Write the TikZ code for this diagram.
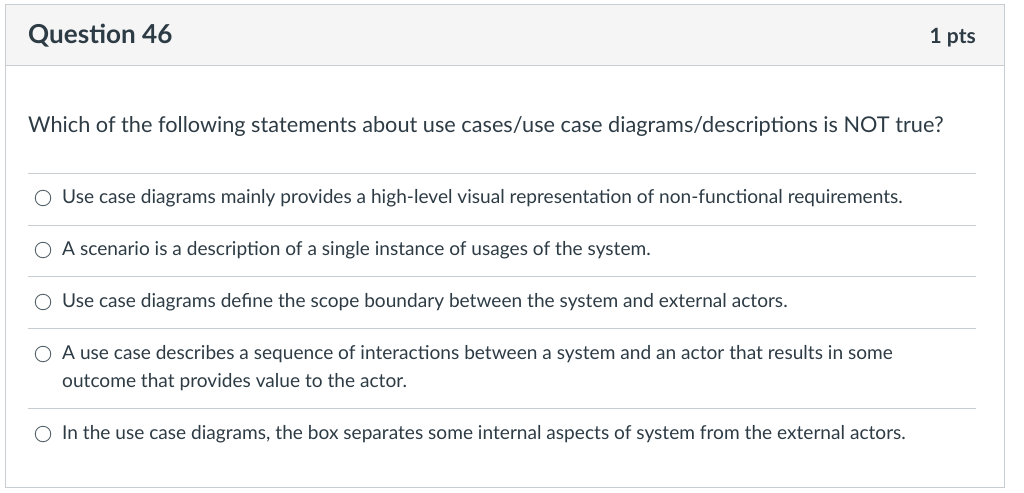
\documentclass[tikz,border=0pt]{standalone}
\usepackage{fontspec}
\setmainfont{Lato}
\definecolor{headgray}{HTML}{F5F5F5}
\definecolor{rulegray}{HTML}{C7CDD1}
\definecolor{textdark}{HTML}{2D3B45}
\tikzset{
  opt/.style={anchor=base west,inner sep=0pt,font=\fontsize{19.1}{24}\selectfont,text=textdark},
  radio/.style={draw=textdark!80,circle,minimum size=15.5pt,inner sep=0pt,line width=0.9pt},
  sep/.style={draw=rulegray,line width=0.8pt}
}
\begin{document}
\begin{tikzpicture}[x=1pt,y=-1pt]
  \useasboundingbox (0,0) rectangle (1024,492);
  \fill[headgray] (5,5) rectangle (1004,66);
  \draw[rulegray,line width=1pt] (5,5) rectangle (1004,487);
  \draw[rulegray,line width=1pt] (5,66) -- (1004,66);

  \node[anchor=base west,inner sep=0pt,font=\fontsize{26.1}{30}\selectfont\bfseries,text=textdark] (title) at (28,44) {Question 46};
  \node[anchor=base east,inner sep=0pt,font=\fontsize{21}{26}\selectfont\bfseries,text=textdark] (pts) at (976,44) {1 pts};
  \node[anchor=base west,inner sep=0pt,font=\fontsize{21.7}{26}\selectfont,text=textdark] (ques) at (28,132) {Which of the following statements about use cases/use case diagrams/descriptions is NOT true?};

  \draw[sep] (28,173) -- (976,173);
  \draw[sep] (28,225) -- (976,225);
  \draw[sep] (28,276) -- (976,276);
  \draw[sep] (28,328) -- (976,328);
  \draw[sep] (28,408) -- (976,408);

  \node[radio] (r1) at (43,198) {};
  \node[opt] (o1) at (62,203) {Use case diagrams mainly provides a high-level visual representation of non-functional requirements.};
  \node[radio] (r2) at (43,250) {};
  \node[opt] (o2) at (62,255) {A scenario is a description of a single instance of usages of the system.};
  \node[radio] (r3) at (43,302) {};
  \node[opt] (o3) at (62,307) {Use case diagrams define the scope boundary between the system and external actors.};
  \node[radio] (r4) at (43,354) {};
  \node[opt] (o4) at (62,359) {A use case describes a sequence of interactions between a system and an actor that results in some};
  \node[opt] (o4b) at (62,387) {outcome that provides value to the actor.};
  \node[radio] (r5) at (43,434) {};
  \node[opt] (o5) at (62,439) {In the use case diagrams, the box separates some internal aspects of system from the external actors.};
\end{tikzpicture}
\end{document}
